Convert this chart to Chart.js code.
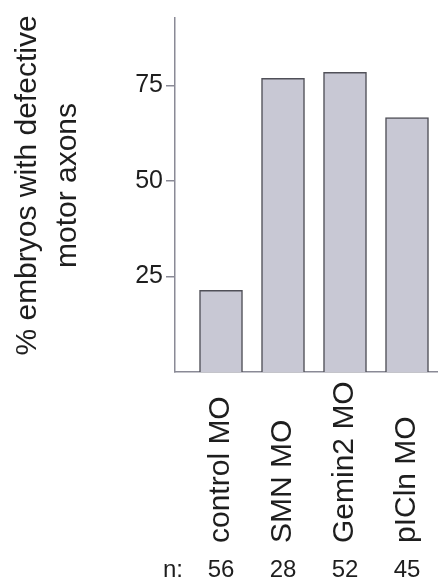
<!DOCTYPE html>
<html>
<head>
<meta charset="utf-8">
<script src="https://cdn.jsdelivr.net/npm/chart.js@4/dist/chart.umd.min.js"></script>
<style>
  html, body { margin: 0; padding: 0; background: #ffffff; }
  #wrap { width: 438px; height: 583px; position: relative; }
</style>
</head>
<body>
<div id="wrap"><canvas id="c" width="438" height="583"></canvas></div>
<script>
// ---- data ----
const categories = ["control MO", "SMN MO", "Gemin2 MO", "pICln MO"];
const percentDefective = [21.4, 76.9, 78.5, 66.6];
const nCounts = ["56", "28", "52", "45"];
const nLabel = "n:";
const yTicks = [25, 50, 75];
const yTitleLines = ["% embryos with defective", "motor axons"];

const FONT = '"Liberation Sans", Arial, Helvetica, sans-serif';
const TEXT = '#1e1e1e';
const AXIS = '#8a8a96';

const labelPlugin = {
  id: 'labelPlugin',
  afterDraw(chart) {
    const ctx = chart.ctx;
    const xs = chart.scales.x;
    ctx.save();
    ctx.fillStyle = TEXT;
    // rotated category labels, anchored at the bottom
    ctx.font = '30px ' + FONT;
    categories.forEach((c, i) => {
      const x = xs.getPixelForValue(i + 1);
      ctx.save();
      ctx.translate(x, 543);
      ctx.rotate(-Math.PI / 2);
      ctx.textAlign = 'left';
      ctx.textBaseline = 'middle';
      ctx.fillText(c, 0, 0);
      ctx.restore();
    });
    // n row
    ctx.font = '24px ' + FONT;
    ctx.textAlign = 'center';
    ctx.textBaseline = 'alphabetic';
    ctx.fillText(nLabel, 173, 577);
    nCounts.forEach((n, i) => {
      const x = xs.getPixelForValue(i + 1);
      ctx.fillText(n, x, 577);
    });
    // y axis title (two lines)
    ctx.font = '30px ' + FONT;
    const cy = 185.5;
    yTitleLines.forEach((t, i) => {
      ctx.save();
      ctx.translate(27.5 + i * 40, cy);
      ctx.rotate(-Math.PI / 2);
      ctx.textAlign = 'center';
      ctx.textBaseline = 'middle';
      ctx.fillText(t, 0, 0);
      ctx.restore();
    });
    ctx.restore();
  }
};

new Chart(document.getElementById('c'), {
  type: 'bar',
  data: {
    datasets: [{
      data: percentDefective.map((v, i) => ({ x: i + 1, y: v })),
      backgroundColor: '#c8c8d4',
      borderColor: '#505058',
      borderWidth: 1.5,
      barThickness: 43
    }]
  },
  options: {
    responsive: false,
    animation: false,
    devicePixelRatio: 1,
    layout: { padding: { left: 0, right: 0, top: 13, bottom: 211 } },
    plugins: { legend: { display: false }, tooltip: { enabled: false } },
    scales: {
      x: {
        type: 'linear',
        offset: false,
        min: 0.258,
        max: 4.5,
        grid: { display: false, drawTicks: false, offset: false },
        border: { display: true, color: AXIS, width: 1.5 },
        ticks: { display: false }
      },
      y: {
        min: 0,
        max: 92.7,
        afterBuildTicks(scale) { scale.ticks = yTicks.map(v => ({ value: v })); },
        afterFit(scale) { scale.width = 175; },
        grid: { drawOnChartArea: false, drawTicks: true, tickLength: 9, color: AXIS, lineWidth: 1.5 },
        border: { display: true, color: AXIS, width: 1.5 },
        ticks: { padding: 3, color: TEXT, font: { family: FONT, size: 25 } },
        title: { display: false }
      }
    }
  },
  plugins: [labelPlugin]
});
</script>
</body>
</html>
